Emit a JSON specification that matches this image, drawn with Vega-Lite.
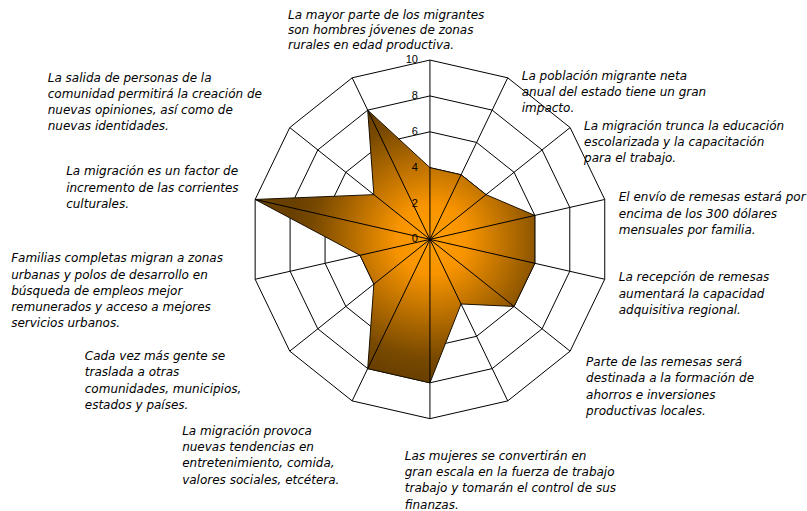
{
  "$schema": "https://vega.github.io/schema/vega-lite/v6.json",
  "width": 807,
  "height": 511,
  "autosize": "none",
  "padding": 0,
  "background": "white",
  "config": {"view": {"stroke": null}, "text": {"font": "DejaVu Sans", "fontStyle": "italic", "fontSize": 12, "color": "#000000", "lineBreak": "\n", "lineHeight": 16.3, "align": "left", "baseline": "top"}},
  "datasets": {
    "axes": [
      {"i": 0, "value": 4, "label": "La mayor parte de los migrantes\nson hombres jóvenes de zonas\nrurales en edad productiva."},
      {"i": 1, "value": 4, "label": "La población migrante neta\nanual del estado tiene un gran\nimpacto."},
      {"i": 2, "value": 4, "label": "La migración trunca la educación\nescolarizada y la capacitación\npara el trabajo."},
      {"i": 3, "value": 6, "label": "El envío de remesas estará por\nencima de los 300 dólares\nmensuales por familia."},
      {"i": 4, "value": 6, "label": "La recepción de remesas\naumentará la capacidad\nadquisitiva regional."},
      {"i": 5, "value": 6, "label": "Parte de las remesas será\ndestinada a la formación de\nahorros e inversiones\nproductivas locales."},
      {"i": 6, "value": 4, "label": "Las mujeres se convertirán en\ngran escala en la fuerza de trabajo\ntrabajo y tomarán el control de sus\nfinanzas."},
      {"i": 7, "value": 8, "label": ""},
      {"i": 8, "value": 8, "label": "La migración provoca\nnuevas tendencias en\nentretenimiento, comida,\nvalores sociales, etcétera."},
      {"i": 9, "value": 4, "label": "Cada vez más gente se\ntraslada a otras\ncomunidades, municipios,\nestados y países."},
      {"i": 10, "value": 4, "label": "Familias completas migran a zonas\nurbanas y polos de desarrollo en\nbúsqueda de empleos mejor\nremunerados y acceso a mejores\nservicios urbanos."},
      {"i": 11, "value": 10, "label": "La migración es un factor de\nincremento de las corrientes\nculturales."},
      {"i": 12, "value": 4, "label": "La salida de personas de la\ncomunidad permitirá la creación de\nnuevas opiniones, así como de\nnuevas identidades."},
      {"i": 13, "value": 8, "label": ""}
    ],
    "rings": [
      {"i":0,"level":2},{"i":1,"level":2},{"i":2,"level":2},{"i":3,"level":2},{"i":4,"level":2},{"i":5,"level":2},{"i":6,"level":2},{"i":7,"level":2},{"i":8,"level":2},{"i":9,"level":2},{"i":10,"level":2},{"i":11,"level":2},{"i":12,"level":2},{"i":13,"level":2},
      {"i":0,"level":4},{"i":1,"level":4},{"i":2,"level":4},{"i":3,"level":4},{"i":4,"level":4},{"i":5,"level":4},{"i":6,"level":4},{"i":7,"level":4},{"i":8,"level":4},{"i":9,"level":4},{"i":10,"level":4},{"i":11,"level":4},{"i":12,"level":4},{"i":13,"level":4},
      {"i":0,"level":6},{"i":1,"level":6},{"i":2,"level":6},{"i":3,"level":6},{"i":4,"level":6},{"i":5,"level":6},{"i":6,"level":6},{"i":7,"level":6},{"i":8,"level":6},{"i":9,"level":6},{"i":10,"level":6},{"i":11,"level":6},{"i":12,"level":6},{"i":13,"level":6},
      {"i":0,"level":8},{"i":1,"level":8},{"i":2,"level":8},{"i":3,"level":8},{"i":4,"level":8},{"i":5,"level":8},{"i":6,"level":8},{"i":7,"level":8},{"i":8,"level":8},{"i":9,"level":8},{"i":10,"level":8},{"i":11,"level":8},{"i":12,"level":8},{"i":13,"level":8},
      {"i":0,"level":10},{"i":1,"level":10},{"i":2,"level":10},{"i":3,"level":10},{"i":4,"level":10},{"i":5,"level":10},{"i":6,"level":10},{"i":7,"level":10},{"i":8,"level":10},{"i":9,"level":10},{"i":10,"level":10},{"i":11,"level":10},{"i":12,"level":10},{"i":13,"level":10}
    ],
    "ticks": [{"level": 0}, {"level": 2}, {"level": 4}, {"level": 6}, {"level": 8}, {"level": 10}]
  },
  "layer": [
    {
      "data": {"name": "rings"},
      "transform": [
        {"calculate": "datum.level * sin(datum.i * 2 * PI / 14)", "as": "px"},
        {"calculate": "datum.level * cos(datum.i * 2 * PI / 14)", "as": "py"}
      ],
      "mark": {"type": "line", "interpolate": "linear-closed", "stroke": "#000000", "strokeWidth": 1},
      "encoding": {
        "x": {"field": "px", "type": "quantitative", "scale": {"domain": [-23.98, 21.03], "nice": false, "zero": false}, "axis": null},
        "y": {"field": "py", "type": "quantitative", "scale": {"domain": [-15.15, 13.35], "nice": false, "zero": false}, "axis": null},
        "detail": {"field": "level", "type": "nominal"},
        "order": {"field": "i", "type": "quantitative"}
      }
    },
    {
      "data": {"name": "axes"},
      "transform": [
        {"calculate": "datum.value * sin(datum.i * 2 * PI / 14)", "as": "px"},
        {"calculate": "datum.value * cos(datum.i * 2 * PI / 14)", "as": "py"}
      ],
      "mark": {
        "type": "line",
        "interpolate": "linear-closed",
        "stroke": "#1a1000",
        "strokeWidth": 1,
        "fill": {
          "gradient": "radial",
          "x1": 0.63, "y1": 0.474, "r1": 0,
          "x2": 0.63, "y2": 0.474, "r2": 0.5,
          "stops": [
            {"offset": 0, "color": "#ff9c00"},
            {"offset": 0.25, "color": "#f89400"},
            {"offset": 0.6, "color": "#ad6800"},
            {"offset": 0.85, "color": "#784900"},
            {"offset": 1, "color": "#6a4000"}
          ]
        }
      },
      "encoding": {
        "x": {"field": "px", "type": "quantitative"},
        "y": {"field": "py", "type": "quantitative"},
        "order": {"field": "i", "type": "quantitative"}
      }
    },
    {
      "data": {"name": "axes"},
      "transform": [
        {"calculate": "10 * sin(datum.i * 2 * PI / 14)", "as": "px"},
        {"calculate": "10 * cos(datum.i * 2 * PI / 14)", "as": "py"}
      ],
      "mark": {"type": "rule", "stroke": "#000000", "strokeWidth": 1},
      "encoding": {
        "x": {"field": "px", "type": "quantitative"},
        "y": {"field": "py", "type": "quantitative"},
        "x2": {"datum": 0},
        "y2": {"datum": 0}
      }
    },
    {
      "data": {"name": "ticks"},
      "mark": {"type": "text", "align": "right", "baseline": "middle", "dx": -12, "font": "Liberation Sans", "fontStyle": "normal", "fontSize": 11, "color": "#000000"},
      "encoding": {
        "x": {"datum": 0},
        "y": {"field": "level", "type": "quantitative"},
        "text": {"field": "level", "type": "quantitative"}
      }
    },
    {
      "data": {"name": "axes"},
      "transform": [
        {"filter": "datum.i == 0"},
        {"calculate": "10 * sin(datum.i * 2 * PI / 14)", "as": "px"},
        {"calculate": "10 * cos(datum.i * 2 * PI / 14)", "as": "py"}
      ],
      "mark": {"type": "text", "dx": -142, "dy": -50, "lineHeight": 14.8},
      "encoding": {
        "x": {"field": "px", "type": "quantitative"},
        "y": {"field": "py", "type": "quantitative"},
        "text": {"field": "label"}
      }
    },
    {
      "data": {"name": "axes"},
      "transform": [
        {"filter": "datum.i >= 1 && datum.i <= 4"},
        {"calculate": "10 * sin(datum.i * 2 * PI / 14)", "as": "px"},
        {"calculate": "10 * cos(datum.i * 2 * PI / 14)", "as": "py"}
      ],
      "mark": {"type": "text", "dx": 14, "dy": -7},
      "encoding": {
        "x": {"field": "px", "type": "quantitative"},
        "y": {"field": "py", "type": "quantitative"},
        "text": {"field": "label"}
      }
    },
    {
      "data": {"name": "axes"},
      "transform": [
        {"filter": "datum.i == 5"},
        {"calculate": "10 * sin(datum.i * 2 * PI / 14)", "as": "px"},
        {"calculate": "10 * cos(datum.i * 2 * PI / 14)", "as": "py"}
      ],
      "mark": {"type": "text", "dx": 16, "dy": 6},
      "encoding": {
        "x": {"field": "px", "type": "quantitative"},
        "y": {"field": "py", "type": "quantitative"},
        "text": {"field": "label"}
      }
    },
    {
      "data": {"name": "axes"},
      "transform": [
        {"filter": "datum.i == 6"},
        {"calculate": "10 * sin(datum.i * 2 * PI / 14)", "as": "px"},
        {"calculate": "10 * cos(datum.i * 2 * PI / 14)", "as": "py"}
      ],
      "mark": {"type": "text", "dx": -103, "dy": 50},
      "encoding": {
        "x": {"field": "px", "type": "quantitative"},
        "y": {"field": "py", "type": "quantitative"},
        "text": {"field": "label"}
      }
    },
    {
      "data": {"name": "axes"},
      "transform": [
        {"filter": "datum.i == 8"},
        {"calculate": "10 * sin(datum.i * 2 * PI / 14)", "as": "px"},
        {"calculate": "10 * cos(datum.i * 2 * PI / 14)", "as": "py"}
      ],
      "mark": {"type": "text", "dx": -170, "dy": 25},
      "encoding": {
        "x": {"field": "px", "type": "quantitative"},
        "y": {"field": "py", "type": "quantitative"},
        "text": {"field": "label"}
      }
    },
    {
      "data": {"name": "axes"},
      "transform": [
        {"filter": "datum.i == 9"},
        {"calculate": "10 * sin(datum.i * 2 * PI / 14)", "as": "px"},
        {"calculate": "10 * cos(datum.i * 2 * PI / 14)", "as": "py"}
      ],
      "mark": {"type": "text", "dx": -205, "dy": 0},
      "encoding": {
        "x": {"field": "px", "type": "quantitative"},
        "y": {"field": "py", "type": "quantitative"},
        "text": {"field": "label"}
      }
    },
    {
      "data": {"name": "axes"},
      "transform": [
        {"filter": "datum.i == 10"},
        {"calculate": "10 * sin(datum.i * 2 * PI / 14)", "as": "px"},
        {"calculate": "10 * cos(datum.i * 2 * PI / 14)", "as": "py"}
      ],
      "mark": {"type": "text", "dx": -244, "dy": -26},
      "encoding": {
        "x": {"field": "px", "type": "quantitative"},
        "y": {"field": "py", "type": "quantitative"},
        "text": {"field": "label"}
      }
    },
    {
      "data": {"name": "axes"},
      "transform": [
        {"filter": "datum.i == 11"},
        {"calculate": "10 * sin(datum.i * 2 * PI / 14)", "as": "px"},
        {"calculate": "10 * cos(datum.i * 2 * PI / 14)", "as": "py"}
      ],
      "mark": {"type": "text", "dx": -189, "dy": -33},
      "encoding": {
        "x": {"field": "px", "type": "quantitative"},
        "y": {"field": "py", "type": "quantitative"},
        "text": {"field": "label"}
      }
    },
    {
      "data": {"name": "axes"},
      "transform": [
        {"filter": "datum.i == 12"},
        {"calculate": "10 * sin(datum.i * 2 * PI / 14)", "as": "px"},
        {"calculate": "10 * cos(datum.i * 2 * PI / 14)", "as": "py"}
      ],
      "mark": {"type": "text", "dx": -242, "dy": -55},
      "encoding": {
        "x": {"field": "px", "type": "quantitative"},
        "y": {"field": "py", "type": "quantitative"},
        "text": {"field": "label"}
      }
    }
  ]
}
